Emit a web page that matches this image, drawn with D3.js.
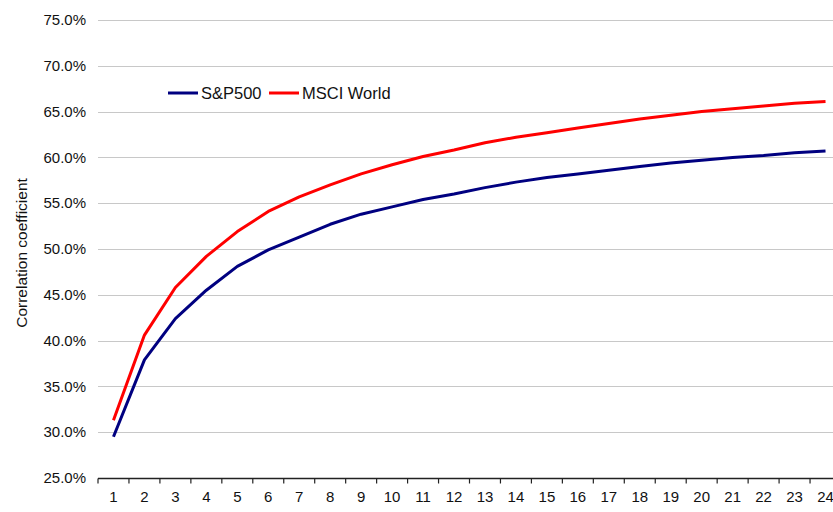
<!DOCTYPE html>
<html>
<head>
<meta charset="utf-8">
<script src="https://cdn.jsdelivr.net/npm/d3@7"></script>
<style>
body{margin:0;background:#fff;}
svg{display:block;font-family:"Liberation Sans",Arial,sans-serif;}
</style>
</head>
<body>
<script>
// horizon (months) on the x axis
var months=d3.range(1,25)
var yTicks=[0.25,0.30,0.35,0.40,0.45,0.50,0.55,0.60,0.65,0.70,0.75]

var sp500=[0.295,0.379,0.424,0.455,0.481,0.499,0.513,0.527,0.538,0.546,0.554,0.560,0.567,0.573,0.578,0.582,0.586,0.590,0.594,0.597,0.600,0.602,0.605,0.607]
var msci=[0.313,0.406,0.458,0.492,0.519,0.541,0.557,0.570,0.582,0.592,0.601,0.608,0.616,0.622,0.627,0.632,0.637,0.642,0.646,0.650,0.653,0.656,0.659,0.661]

var series=[
	{name:"S&P500",values:sp500,color:"#000080"},
	{name:"MSCI World",values:msci,color:"#ff0000"}
]

var width=833,height=512
var margin={left:98,right:-8,top:20,bottom:34}

var svg=d3.select("body").append("svg").attr("width",width).attr("height",height)

var x=d3.scaleBand().domain(months).range([margin.left,width-margin.right])
var y=d3.scaleLinear().domain([0.25,0.75]).range([height-margin.bottom,margin.top])

// gridlines
svg.append("g").selectAll("line").data(yTicks.slice(1)).join("line")
	.attr("x1",margin.left).attr("x2",width-margin.right)
	.attr("y1",d=>Math.round(y(d))+0.5).attr("y2",d=>Math.round(y(d))+0.5)
	.attr("stroke","#c8c8c8").attr("stroke-width",1)

// y labels
svg.append("g").selectAll("text").data(yTicks).join("text")
	.attr("x",margin.left-12).attr("y",d=>y(d)).attr("dy","0.35em")
	.attr("text-anchor","end").attr("font-size",15).attr("fill","#111")
	.text(d=>d3.format(".1%")(d))

// x axis
var xAxis=svg.append("g").attr("transform","translate(0,"+(Math.round(y(0.25))+0.5)+")")
xAxis.append("line").attr("x1",margin.left).attr("x2",width-margin.right).attr("stroke","#222").attr("stroke-width",1.3)
xAxis.selectAll(".tk").data(months).join("line").attr("class","tk")
	.attr("x1",d=>x(d)).attr("x2",d=>x(d)).attr("y1",0).attr("y2",5)
	.attr("stroke","#222").attr("stroke-width",1.2)
xAxis.selectAll("text").data(months).join("text")
	.attr("x",d=>x(d)+x.bandwidth()/2).attr("y",23)
	.attr("text-anchor","middle").attr("font-size",15).attr("fill","#111")
	.text(d=>d)

// y title
svg.append("text").attr("transform","translate(27,"+((margin.top+height-margin.bottom)/2+4)+") rotate(-90)")
	.attr("text-anchor","middle").attr("font-size",15.5).attr("fill","#111")
	.text("Correlation coefficient")

var line=d3.line().x((d,i)=>x(months[i])+x.bandwidth()/2).y(d=>y(d))

svg.append("g").selectAll("path").data(series).join("path")
	.attr("d",d=>line(d.values))
	.attr("fill","none").attr("stroke",d=>d.color).attr("stroke-width",3)
	.attr("stroke-linejoin","round")

// legend
var legX=[168,269]
var leg=svg.append("g").selectAll("g").data(series).join("g")
	.attr("transform",(d,i)=>"translate("+legX[i]+",93)")
leg.append("line").attr("x1",0).attr("x2",30).attr("stroke",d=>d.color).attr("stroke-width",3)
leg.append("text").attr("x",33).attr("dy","0.35em").attr("font-size",16.5).attr("fill","#111").text(d=>d.name)
</script>
</body>
</html>
